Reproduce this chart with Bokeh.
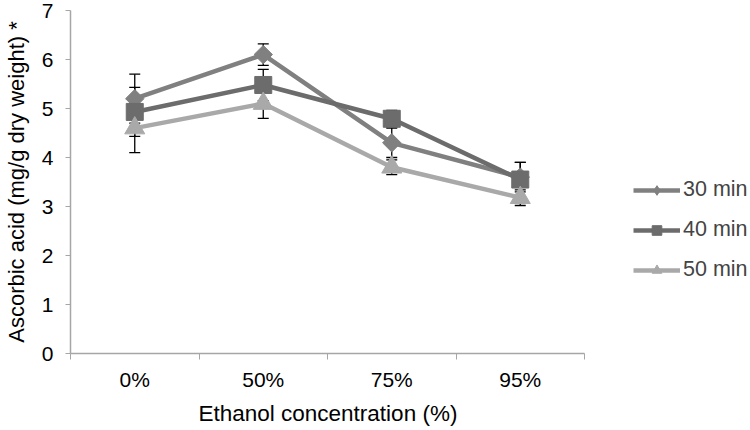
import numpy as np
from bokeh.plotting import figure
from bokeh.models import (Range1d, FixedTicker, ColumnDataSource, Whisker, TeeHead,
                          Legend, LegendItem, Title)
from bokeh.embed import file_html
from bokeh.resources import INLINE

# ---- data ----
categories = ["0%", "50%", "75%", "95%"]
series_names = ["30 min", "40 min", "50 min"]
vals_30 = [5.2, 6.1, 4.3, 3.6]
err_30 = [0.5, 0.22, 0.3, 0.3]
vals_40 = [4.93, 5.48, 4.79, 3.55]
err_40 = [0.5, 0.32, 0.17, 0.35]
vals_50 = [4.6, 5.1, 3.8, 3.18]
err_50 = [0.5, 0.3, 0.15, 0.16]
y_ticks = [0, 1, 2, 3, 4, 5, 6, 7]
x_title = "Ethanol concentration (%)"
y_title = "Ascorbic acid (mg/g dry weight) *"

colors = ["#808080", "#6c6c6c", "#a9a9a9"]
FONT = "Liberation Sans"
AX = "#a6a6a6"

W, H = 750, 430
LEFT, AXIS_RIGHT, TOP, BOTTOM = 70, 584, 10, 354
n = len(categories)
xs = np.arange(n) + 0.5
# frame spans to the right edge (legend lives there); axis is bounded to the categories
x_end = n * (W - LEFT) / (AXIS_RIGHT - LEFT)

p = figure(width=W, height=H, output_backend="svg", toolbar_location=None,
           x_range=Range1d(0, x_end), y_range=Range1d(0, 7),
           min_border_left=LEFT, min_border_right=0, min_border_top=TOP,
           min_border_bottom=H - BOTTOM)
p.outline_line_color = None
p.xgrid.visible = False
p.ygrid.visible = False

# x axis: ticks at category boundaries, labels at centres
p.xaxis.bounds = (0, n)
p.xaxis.ticker = FixedTicker(ticks=list(xs), minor_ticks=list(range(n + 1)))
p.xaxis.major_label_overrides = {float(x): c for x, c in zip(xs, categories)}
p.xaxis.major_tick_line_color = None
p.xaxis.major_tick_out = 6
p.xaxis.major_tick_in = 0
p.xaxis.minor_tick_out = 6
p.xaxis.minor_tick_in = 0
p.xaxis.minor_tick_line_color = AX
p.xaxis.axis_line_color = AX
p.xaxis.axis_line_width = 1.5
p.xaxis.major_label_standoff = 8

p.yaxis.ticker = FixedTicker(ticks=y_ticks)
p.yaxis.minor_tick_line_color = None
p.yaxis.major_tick_out = 5
p.yaxis.major_tick_in = 0
p.yaxis.major_tick_line_color = AX
p.yaxis.axis_line_color = AX
p.yaxis.axis_line_width = 1.5
p.yaxis.major_label_standoff = 12
p.yaxis.axis_label = y_title
p.yaxis.axis_label_standoff = 10

for ax in (p.xaxis, p.yaxis):
    ax.major_label_text_font = FONT
    ax.major_label_text_font_size = "21px"
    ax.major_label_text_color = "black"
    ax.axis_label_text_font = FONT
    ax.axis_label_text_font_size = "22px"
    ax.axis_label_text_font_style = "normal"
    ax.axis_label_text_color = "black"

# x-axis title, centred under the category axis (not the wider frame)
xt = Title(text=x_title, align="left", offset=198 - LEFT, standoff=10,
           text_font=FONT, text_font_size="22.5px", text_font_style="normal",
           text_color="black")
p.add_layout(xt, "below")

all_vals = [vals_30, vals_40, vals_50]
all_errs = [err_30, err_40, err_50]

# error bars
for v, e in zip(all_vals, all_errs):
    v = np.array(v); e = np.array(e)
    src = ColumnDataSource(dict(x=xs, lo=v - e, hi=v + e))
    w = Whisker(source=src, base="x", lower="lo", upper="hi", line_color="black",
                line_width=1.3,
                upper_head=TeeHead(size=11, line_color="black", line_width=1.3),
                lower_head=TeeHead(size=11, line_color="black", line_width=1.3))
    p.add_layout(w)

items = []
markers = [("square", 13, np.pi / 4), ("square", 17, 0.0), ("triangle", 20, 0.0)]
legend_markers = ["diamond", "square", "triangle"]
for name, v, col, (mk, sz, ang), lmk in zip(series_names, all_vals, colors, markers,
                                           legend_markers):
    src = ColumnDataSource(dict(x=xs, y=v))
    ln = p.line("x", "y", source=src, line_color=col, line_width=4.5)
    p.scatter("x", "y", source=src, marker=mk, size=sz, angle=ang,
              fill_color=col, line_color=col)
    # legend-only marker renderer (no visible points)
    lsrc = ColumnDataSource(dict(x=[np.nan], y=[np.nan]))
    lr = p.scatter("x", "y", source=lsrc, marker=lmk, size=10,
                   fill_color=col, line_color=col)
    items.append(LegendItem(label=name, renderers=[ln, lr]))

legend = Legend(items=items, location=(633 - LEFT, BOTTOM - 283), padding=0, margin=0,
                border_line_color=None, background_fill_alpha=0,
                glyph_width=47, glyph_height=24, label_height=24,
                label_standoff=3, spacing=15,
                label_text_font=FONT, label_text_font_size="21.5px")
p.add_layout(legend, "center")

open("out.html", "w").write(file_html(p, INLINE))
